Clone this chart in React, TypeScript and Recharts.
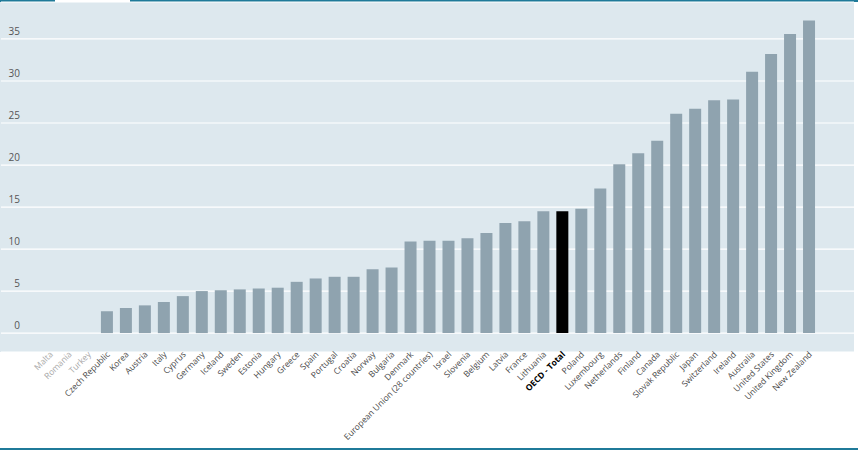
import { BarChart, Bar, XAxis, YAxis, CartesianGrid, Cell } from 'recharts';

const countries = [
  'Malta', 'Romania', 'Turkey', 'Czech Republic', 'Korea', 'Austria', 'Italy', 'Cyprus',
  'Germany', 'Iceland', 'Sweden', 'Estonia', 'Hungary', 'Greece', 'Spain', 'Portugal',
  'Croatia', 'Norway', 'Bulgaria', 'Denmark', 'European Union (28 countries)', 'Israel',
  'Slovenia', 'Belgium', 'Latvia', 'France', 'Lithuania', 'OECD - Total', 'Poland',
  'Luxembourg', 'Netherlands', 'Finland', 'Canada', 'Slovak Republic', 'Japan',
  'Switzerland', 'Ireland', 'Australia', 'United States', 'United Kingdom', 'New Zealand',
];

const values: (number | null)[] = [
  null, null, null, 2.6, 3.0, 3.3, 3.7, 4.4,
  5.0, 5.1, 5.2, 5.3, 5.4, 6.1, 6.5, 6.7,
  6.7, 7.6, 7.8, 10.9, 11.0, 11.0,
  11.3, 11.9, 13.1, 13.3, 14.5, 14.5, 14.8,
  17.2, 20.1, 21.4, 22.9, 26.1, 26.7,
  27.7, 27.8, 31.1, 33.2, 35.6, 37.2,
];

const yTicks = [0, 5, 10, 15, 20, 25, 30, 35];

const TOTAL = 'OECD - Total';

const data = countries.map((name, i) => ({ name, value: values[i] }));

const XTick = (props: any) => {
  const { x, y, payload } = props;
  const name = payload.value as string;
  const noData = values[countries.indexOf(name)] == null;
  const isTotal = name === TOTAL;
  return (
    <g transform={`translate(${x + 3},${y - 5})`}>
      <text
        transform="rotate(-45)"
        textAnchor="end"
        fontSize={8.5}
        fontFamily="'Open Sans', sans-serif"
        fontWeight={isTotal ? 700 : 400}
        fill={isTotal ? '#000' : noData ? '#a8a8a8' : '#4a4a4a'}
      >
        {name}
      </text>
    </g>
  );
};

const YTick = (props: any) => {
  const { y, payload } = props;
  return (
    <text x={20} y={y - 4} textAnchor="end" fontSize={10} fontFamily="'Open Sans', sans-serif" fill="#555">
      {payload.value}
    </text>
  );
};

export default function App() {
  return (
    <div style={{ position: 'absolute', left: 0, top: 0, width: 858, height: 451, background: '#fff' }}>
      <div style={{ position: 'absolute', left: 0, top: 0, width: 55, height: 2, background: '#1f7a99' }} />
      <div style={{ position: 'absolute', left: 130, top: 0, width: 728, height: 2, background: '#1f7a99' }} />
      <div style={{ position: 'absolute', left: 0, top: 2, width: 854, height: 350, background: '#dde8ee' }} />
      <div style={{ position: 'absolute', left: 0, top: 448, width: 858, height: 2, background: '#1f7a99' }} />
      <div style={{ position: 'absolute', left: 0, top: 0 }}>
        <BarChart
          width={858}
          height={451}
          data={data}
          margin={{ top: 2, right: 4, left: 0, bottom: 0 }}
        >
          <CartesianGrid vertical={false} stroke="#ffffff" strokeWidth={1.2} />
          <XAxis
            dataKey="name"
            interval={0}
            height={99}
            padding={{ left: 40, right: 35 }}
            axisLine={false}
            tickLine={false}
            tick={<XTick />}
          />
          <YAxis
            width={1}
            domain={[-2.25, 39.4]}
            ticks={yTicks}
            allowDataOverflow
            axisLine={false}
            tickLine={false}
            tick={<YTick />}
          />
          <Bar dataKey="value" barSize={12} isAnimationActive={false}>
            {data.map((d) => (
              <Cell key={d.name} fill={d.name === TOTAL ? '#000000' : '#8fa3af'} />
            ))}
          </Bar>
        </BarChart>
      </div>
    </div>
  );
}
